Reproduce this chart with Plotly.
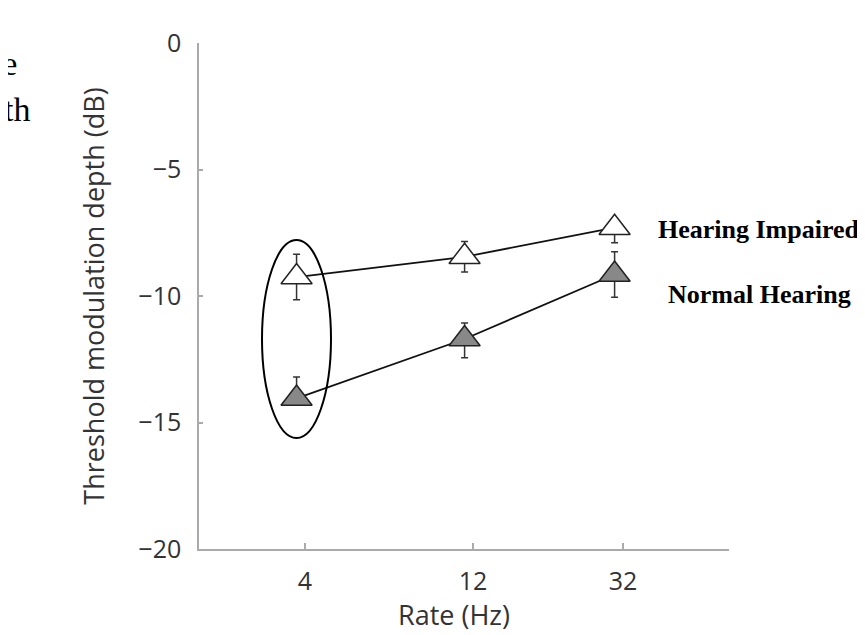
import plotly.graph_objects as go

# ---- data ----
rates = [4, 12, 32]
rate_labels = ["4", "12", "32"]
hi_vals = [-9.25, -8.45, -7.3]
hi_err_plus = [0.9, 0.6, 0.3]
hi_err_minus = [0.9, 0.6, 0.6]
nh_vals = [-14.05, -11.7, -9.15]
nh_err_plus = [0.85, 0.63, 0.9]
nh_err_minus = [0.2, 0.74, 0.9]
y_ticks = [0, -5, -10, -15, -20]
series_names = ["Hearing Impaired", "Normal Hearing"]

# page has an 8px body margin; compensate so the plot lands where the reference has it
OFF = 8
W, H = 865 - OFF, 635 - OFF
# plot area in page pixels: x 199..729, y 43..549
L, R, T, B = 199 - OFF, 865 - 729, 43 - OFF, 635 - 549
pw, ph = W - L - R, H - T - B


def px(x):
    return (x - OFF - L) / pw


def py(y):
    return (H - B - (y - OFF)) / ph


fig = go.Figure()

# empty trace so the visible x axis has a subplot to live in
fig.add_trace(go.Scatter(x=[None], y=[None], xaxis="x", yaxis="y",
                         mode="markers", showlegend=False, hoverinfo="skip"))

common_err = dict(type="data", symmetric=False, color="#333333", thickness=1.5, width=3.5)

fig.add_trace(go.Scatter(
    x=rates, y=hi_vals, xaxis="x2", yaxis="y", mode="lines+markers", name=series_names[0],
    line=dict(color="#111111", width=1.8),
    marker=dict(symbol="triangle-up", size=27, color="white",
                line=dict(color="#222222", width=1.5)),
    error_y=dict(array=hi_err_plus, arrayminus=hi_err_minus, **common_err),
    showlegend=False,
))
fig.add_trace(go.Scatter(
    x=rates, y=nh_vals, xaxis="x2", yaxis="y", mode="lines+markers", name=series_names[1],
    line=dict(color="#111111", width=1.8),
    marker=dict(symbol="triangle-up", size=27, color="#888888",
                line=dict(color="#222222", width=1.5)),
    error_y=dict(array=nh_err_plus, arrayminus=nh_err_minus, **common_err),
    showlegend=False,
))

font_sans = "Open Sans, Noto Sans, sans-serif"
axis_col = "#aaaaaa"
text_col = "#333333"

fig.update_layout(
    width=W, height=H,
    margin=dict(l=L, r=R, t=T, b=B, pad=0),
    paper_bgcolor="white", plot_bgcolor="white",
    font=dict(family=font_sans, size=25, color=text_col),
    xaxis=dict(
        type="log", range=[0.30103, 1.80618],
        tickvals=rates, ticktext=rate_labels,
        showgrid=False, zeroline=False,
        showline=True, linecolor=axis_col, linewidth=1.5,
        ticks="inside", ticklen=6, tickcolor=axis_col, tickwidth=1.5,
        ticklabelstandoff=9,
    ),
    xaxis2=dict(
        type="log", range=[0.325, 1.830], overlaying="x", visible=False,
    ),
    yaxis=dict(
        range=[-20, 0], tickvals=y_ticks,
        showgrid=False, zeroline=False,
        showline=True, linecolor=axis_col, linewidth=1.5,
        ticks="inside", ticklen=4, tickcolor=axis_col, tickwidth=1.5,
        ticklabelstandoff=11,
        title=dict(text="Threshold modulation depth (dB)", standoff=26, font=dict(size=27)),
    ),
)

# x-axis title (slightly left of the axis centre, as in the reference)
fig.add_annotation(text="Rate (Hz)", xref="paper", yref="paper",
                   x=px(454), y=py(614), xanchor="center", yanchor="middle",
                   showarrow=False, font=dict(family=font_sans, size=27, color=text_col))

# ellipse around the 4 Hz points
fig.add_shape(type="circle", xref="paper", yref="paper",
              x0=px(262), x1=px(331), y0=py(438), y1=py(240),
              line=dict(color="black", width=2))

serif_bold = dict(family="Liberation Serif, Times New Roman, serif", size=26, color="black")
fig.add_annotation(text="<b>Hearing Impaired</b>", xref="paper", yref="paper",
                   x=px(656), y=py(229), xanchor="left", yanchor="middle",
                   showarrow=False, font=serif_bold)
fig.add_annotation(text="<b>Normal Hearing</b>", xref="paper", yref="paper",
                   x=px(666), y=py(294), xanchor="left", yanchor="middle",
                   showarrow=False, font=serif_bold)

serif = dict(family="Liberation Serif, Times New Roman, serif", size=34, color="black")
fig.add_annotation(text="re", xref="paper", yref="paper",
                   x=px(19), y=py(64), xanchor="right", yanchor="middle",
                   showarrow=False, font=serif)
fig.add_annotation(text="th", xref="paper", yref="paper",
                   x=px(32), y=py(109), xanchor="right", yanchor="middle",
                   showarrow=False, font=serif)

fig.write_html("out.html")
